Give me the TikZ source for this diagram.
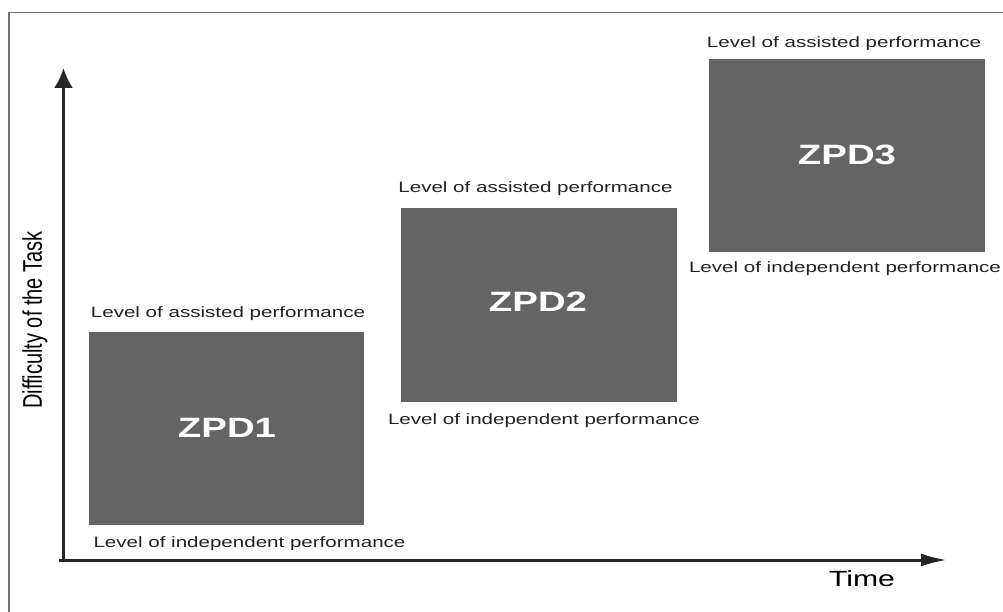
\documentclass[tikz,border=0pt]{standalone}
\usepackage{fontspec}
\setmainfont{Liberation Sans}
\usetikzlibrary{arrows.meta}
\definecolor{boxgray}{HTML}{646464}
\definecolor{labeltext}{HTML}{222222}
\definecolor{framegray}{HTML}{707070}
\tikzset{
  zpdbox/.style={fill=boxgray, draw=none},
  zpdtext/.style={text=white, inner sep=0pt, font=\fontsize{28}{30}\selectfont\bfseries},
  leveltext/.style={text=labeltext, inner sep=0pt, font=\fontsize{15}{17}\selectfont},
  axisline/.style={line width=3pt, draw=black!85},
}
\newcommand{\hstretch}[1]{\scalebox{1.37}[1]{#1}}
\begin{document}
\begin{tikzpicture}[x=1pt,y=1pt]
\useasboundingbox (0,0) rectangle (1003,-612);
% frame
\draw[framegray, line width=1.5pt] (9,-612) -- (9,-12.5) -- (1003,-12.5);
% axes
\coordinate (origin) at (59,-560);
\coordinate (ycorner) at (63.5,-562);
\coordinate (ytop) at (63.5,-68);
\coordinate (xend) at (947,-560);
\draw[axisline, -{Latex[length=20pt,width=19pt]}] (ycorner) -- (ytop);
\draw[axisline, -{Latex[length=26pt,width=13pt]}] (origin) -- (xend);
% axis labels
\node[inner sep=0pt, rotate=90, font=\fontsize{20}{22}\selectfont] (ylab) at (35,-320) {\scalebox{1}[1.35]{Difficulty of the Task}};
\node[inner sep=0pt, font=\fontsize{22}{24}\selectfont] (xlab) at (862,-579) {\hstretch{Time}};
% boxes
\fill[zpdbox] (89,-332) rectangle (364,-525);
\fill[zpdbox] (401,-208) rectangle (677,-402);
\fill[zpdbox] (709,-59) rectangle (985,-252);
\node[zpdtext] (z1) at (227,-428) {\hstretch{ZPD1}};
\node[zpdtext] (z2) at (538,-302) {\hstretch{ZPD2}};
\node[zpdtext] (z3) at (847,-155) {\hstretch{ZPD3}};
% level labels
\node[leveltext] (a1) at (228,-314) {\hstretch{Level of assisted performance}};
\node[leveltext] (i1) at (249.5,-544) {\hstretch{Level of independent performance}};
\node[leveltext] (a2) at (535.5,-189) {\hstretch{Level of assisted performance}};
\node[leveltext] (i2) at (544,-421) {\hstretch{Level of independent performance}};
\node[leveltext] (a3) at (844,-44) {\hstretch{Level of assisted performance}};
\node[leveltext] (i3) at (845,-269) {\hstretch{Level of independent performance}};
\end{tikzpicture}
\end{document}
